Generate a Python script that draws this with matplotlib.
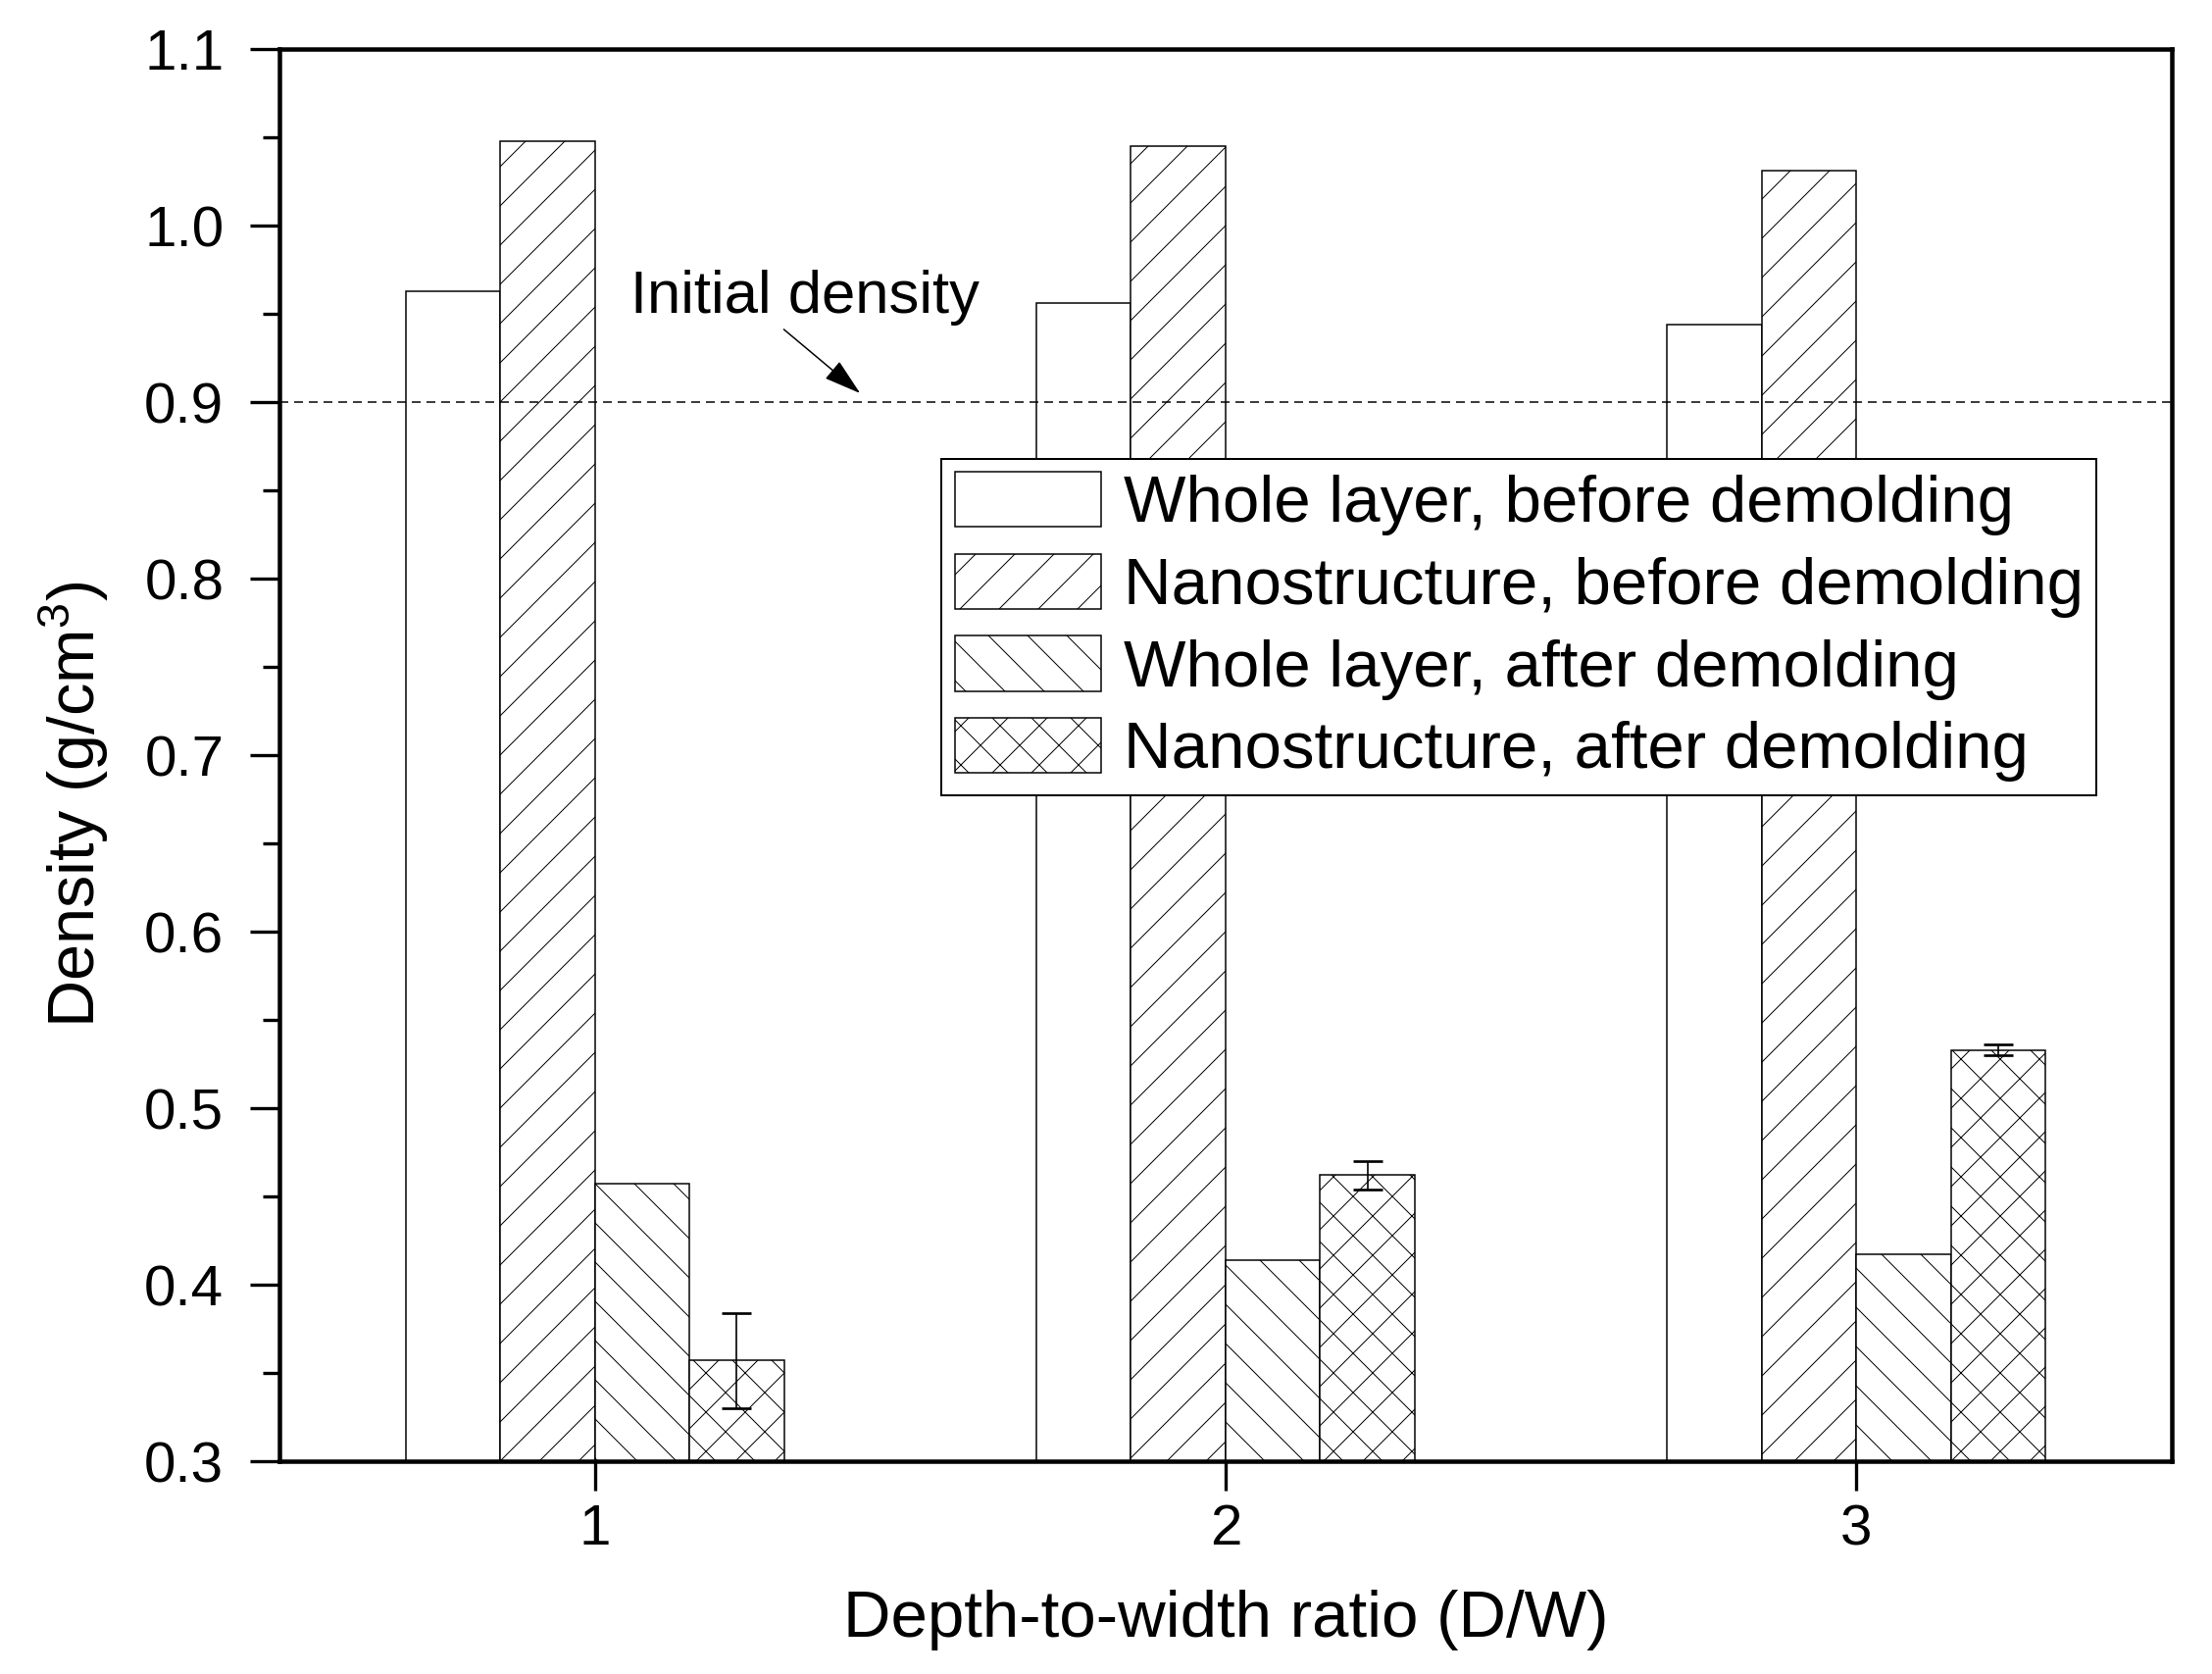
import numpy as np
import matplotlib
matplotlib.use("Agg")
from matplotlib import pyplot as plt
from matplotlib.ticker import MultipleLocator, FormatStrFormatter

plt.rcParams['font.family'] = ['Liberation Sans', 'DejaVu Sans']
plt.rcParams['mathtext.fontset'] = 'custom'
plt.rcParams['mathtext.rm'] = 'Liberation Sans'
plt.rcParams['mathtext.default'] = 'regular'
plt.rcParams['hatch.linewidth'] = 0.3
plt.rcParams['hatch.color'] = 'black'

# data
ratios = [1, 2, 3]
whole_before = [0.963, 0.956, 0.944]
nano_before = [1.048, 1.045, 1.031]
whole_after = [0.457, 0.414, 0.417]
nano_after = [0.357, 0.462, 0.533]
nano_after_err = [0.027, 0.008, 0.003]
initial_density = 0.9

labels = ['Whole layer, before demolding', 'Nanostructure, before demolding',
          'Whole layer, after demolding', 'Nanostructure, after demolding']
hatches = [None, '//', '\\\\', 'xx']

fig = plt.figure(figsize=(9.4, 7.1125), dpi=240)
ax = fig.add_axes([0.1263, 0.1271, 0.8555, 0.8436])

x = np.array(ratios, dtype=float)
w = 0.15
offs = [-1.5 * w, -0.5 * w, 0.5 * w, 1.5 * w]
series = [whole_before, nano_before, whole_after, nano_after]
for k in range(4):
    ax.bar(x + offs[k], series[k], w, bottom=0, color='white', edgecolor='black',
           linewidth=0.45, hatch=hatches[k], label=labels[k], zorder=2)

ax.errorbar(x + offs[3], nano_after, yerr=nano_after_err, fmt='none', ecolor='black',
            elinewidth=0.5, capsize=4.4, capthick=0.8, zorder=3)

# initial density line + note
ax.axhline(initial_density, color='black', lw=0.45, dashes=(6, 4), zorder=3)
ax.text(1.057, 0.9505, 'Initial density', fontsize=18.5, ha='left', va='baseline')
ax.annotate('', xy=(1.4207, 0.905), xytext=(1.2997, 0.9412),
            arrowprops=dict(arrowstyle='-|>,head_length=0.4,head_width=0.12',
                            lw=0.45, color='black', mutation_scale=25,
                            shrinkA=0, shrinkB=0))

ax.set_xlim(0.5, 3.5)
ax.set_ylim(0.3, 1.1)
ax.set_xticks(ratios)
ax.set_xticklabels([str(r) for r in ratios])
ax.yaxis.set_major_locator(MultipleLocator(0.1))
ax.yaxis.set_minor_locator(MultipleLocator(0.05))
ax.yaxis.set_major_formatter(FormatStrFormatter('%.1f'))

for s in ax.spines.values():
    s.set_linewidth(1.35)
ax.tick_params(axis='y', which='major', direction='out', length=9, width=1.0,
               pad=8, labelsize=17.5, right=False)
ax.tick_params(axis='y', which='minor', direction='out', length=5, width=1.0, right=False)
ax.tick_params(axis='x', which='major', direction='out', length=9, width=1.0,
               pad=4, labelsize=17.5, top=False)

ax.set_xlabel('Depth-to-width ratio (D/W)', fontsize=20.2, labelpad=10)
ax.set_ylabel('Density (g/cm$^3$)', fontsize=20)
ax.yaxis.set_label_coords(-0.089, 0.465)

leg = ax.legend(loc='upper left', bbox_to_anchor=(0.350, 0.710), borderaxespad=0,
                fontsize=20.2, frameon=True, fancybox=False, edgecolor='black',
                framealpha=1, handlelength=2.22, handleheight=0.91,
                labelspacing=0.27, borderpad=0.2, handletextpad=0.33)
leg.get_frame().set_linewidth(0.6)
leg.set_zorder(5)

fig.savefig('out.png', dpi=240)
